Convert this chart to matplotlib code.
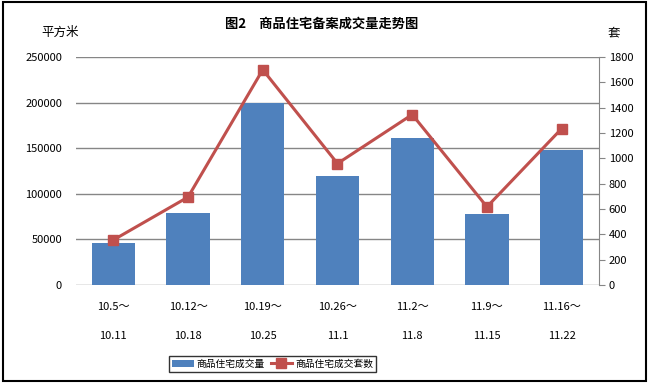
import matplotlib.pyplot as plt
import numpy as np

plt.rcParams['font.family'] = ['Noto Sans CJK SC', 'DejaVu Sans']

weeks = ["10.5～\n\n10.11", "10.12～\n\n10.18", "10.19～\n\n10.25", "10.26～\n\n11.1",
         "11.2～\n\n11.8", "11.9～\n\n11.15", "11.16～\n\n11.22"]
area = [46000, 78800, 200000, 119400, 161700, 77700, 147800]
units = [355, 694, 1700, 959, 1346, 617, 1235]

x = np.arange(len(weeks))

fig = plt.figure(figsize=(6.49, 3.83), dpi=100)
ax = fig.add_axes([0.117, 0.256, 0.806, 0.595])
ax2 = ax.twinx()

b = ax.bar(x, area, width=0.58, color="#4F81BD", zorder=2, label="商品住宅成交量")
l, = ax2.plot(x, units, color="#C0504D", lw=2.2, marker="s", ms=7.5,
              label="商品住宅成交套数", zorder=3)

ax.set_xlim(-0.5, len(weeks) - 0.5)
ax.set_ylim(0, 250000)
ax.set_yticks(np.arange(0, 250001, 50000))
ax2.set_ylim(0, 1800)
ax2.set_yticks(np.arange(0, 1801, 200))
ax.yaxis.grid(True, color="#868686", lw=1)
ax.set_axisbelow(True)
ax.set_xticks(x)
ax.set_xticklabels(weeks, fontsize=8, linespacing=1.6)
ax.tick_params(axis="x", length=0, pad=12)
ax.tick_params(axis="y", length=0, labelsize=8, pad=10)
ax2.tick_params(axis="y", length=4, labelsize=8, color="#868686", pad=3)

for s in ["top", "left", "bottom"]:
    ax.spines[s].set_visible(False)
    ax2.spines[s].set_visible(False)
ax.spines["right"].set_visible(False)
ax2.spines["right"].set_color("#868686")

fig.text(0.495, 0.937, "图2　商品住宅备案成交量走势图", ha="center", va="center",
         fontsize=9.5, fontweight="bold")
fig.text(0.092, 0.915, "平方米", ha="center", va="center", fontsize=9)
fig.text(0.946, 0.915, "套", ha="center", va="center", fontsize=9)

fig.legend([b, l], ["商品住宅成交量", "商品住宅成交套数"], loc="center",
           bbox_to_anchor=(0.42, 0.05), ncol=2, fontsize=7, frameon=True,
           fancybox=False, edgecolor="black", handlelength=2.2, columnspacing=0.6,
           handletextpad=0.3, borderpad=0.3)

fig.patches.append(plt.Rectangle((0.005, 0.005), 0.99, 0.99, transform=fig.transFigure,
                                 fill=False, edgecolor="black", lw=1.5))

plt.savefig("out.png", dpi=100)
plt.close()
